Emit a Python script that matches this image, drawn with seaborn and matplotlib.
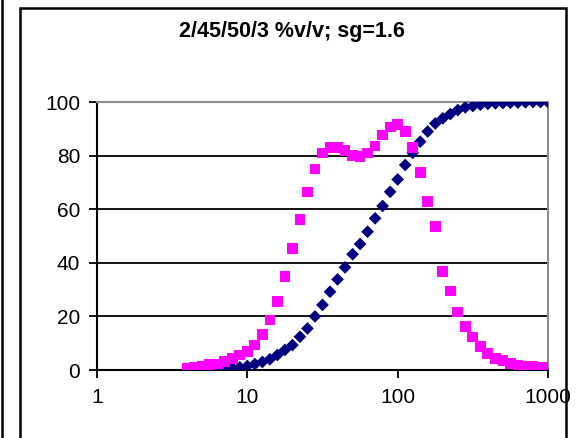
import numpy as np
import pandas as pd
import matplotlib
matplotlib.use("Agg")
import matplotlib.pyplot as plt
from matplotlib.lines import Line2D
from matplotlib.patches import Rectangle
import seaborn as sns

# Particle size grid (20 classes per decade, 4 to 1000)
size_um = [10 ** (k / 20) for k in range(12, 61)]

# Cumulative distribution (navy diamonds)
cumulative = [0.0, 0.1, 0.2, 0.3, 0.4, 0.5, 0.8, 1.0, 1.5, 2.2,
              3.0, 4.0, 5.6, 7.5, 9.3, 12.4, 15.5, 20.0, 24.3, 29.2,
              33.8, 38.3, 43.2, 47.0, 51.6, 56.6, 61.2, 66.5, 71.1, 76.5,
              81.0, 85.2, 89.0, 92.0, 93.9, 95.5, 97.0, 98.0, 98.5, 99.0,
              99.3, 99.5, 99.6, 99.7, 99.8, 99.9, 100.0, 100.0, 100.0]

# Frequency distribution (magenta squares)
frequency = [0.5, 1.0, 1.5, 2.0, 2.2, 3.1, 4.4, 5.6, 6.8, 9.3,
             13.3, 18.7, 25.5, 34.8, 45.4, 56.2, 66.4, 75.0, 81.0, 83.0,
             83.0, 82.0, 80.0, 79.6, 81.0, 83.6, 87.7, 90.7, 91.7, 89.0,
             83.0, 73.6, 62.8, 53.5, 36.7, 29.5, 21.6, 16.2, 12.3, 8.7,
             6.2, 4.3, 3.5, 2.5, 1.7, 1.5, 1.2, 1.0, 0.9]

x_ticks = [1, 10, 100, 1000]
x_tick_labels = ["1", "10", "100", "1000"]
y_ticks = [0, 20, 40, 60, 80, 100]

title = "2/45/50/3 %v/v; sg=1.6"

df = pd.DataFrame({"size": size_um, "cum": cumulative, "freq": frequency})

sns.set_theme(style="white")
plt.rcParams["font.family"] = ["Liberation Sans", "DejaVu Sans"]

fig = plt.figure(figsize=(5.76, 4.38), dpi=100)
W, H = 576, 438
ax = fig.add_axes([97 / W, (H - 370) / H, (548 - 97) / W, (370 - 102) / H])

sns.scatterplot(data=df, x="size", y="cum", ax=ax, marker="D", s=42,
                color="#000080", edgecolor="none", linewidth=0, zorder=3)
sns.scatterplot(data=df, x="size", y="freq", ax=ax, marker="s", s=60,
                color="#FF00FF", edgecolor="none", linewidth=0, zorder=4)

ax.set_xscale("log")
ax.set_xlim(1, 1000)
ax.set_ylim(0, 100)
ax.set_xticks(x_ticks)
ax.set_xticklabels(x_tick_labels)
ax.minorticks_off()
ax.set_yticks(y_ticks)
ax.set_yticklabels([str(v) for v in y_ticks])
ax.set_xlabel("")
ax.set_ylabel("")

# Horizontal gridlines
for yv in y_ticks[1:-1]:
    ax.axhline(yv, color="black", lw=1.3, zorder=1)

for side in ["left", "bottom"]:
    ax.spines[side].set_color("black")
    ax.spines[side].set_linewidth(1.5)
for side in ["top", "right"]:
    ax.spines[side].set_color("#8c8c8c")
    ax.spines[side].set_linewidth(1.5)

ax.tick_params(axis="both", which="major", direction="out", length=6,
               width=1.3, color="black", labelsize=15, labelcolor="black")
ax.tick_params(axis="y", pad=6, left=True)
ax.tick_params(axis="x", pad=7, bottom=True)

# Title inside chart frame
fig.text(292 / W, 1 - 32 / H, title, ha="center", va="center",
         fontsize=15.5, fontweight="bold", color="black")

# Chart frame and left edge line
fig.add_artist(Rectangle((20 / W, -0.05), (566 - 20) / W, 1.05 - 8 / H,
                         transform=fig.transFigure, fill=False,
                         edgecolor="black", linewidth=1.8))
fig.add_artist(Line2D([2 / W, 2 / W], [0, 1], transform=fig.transFigure,
                      color="black", linewidth=1.8))

fig.savefig("out.png", dpi=100, facecolor="white")
